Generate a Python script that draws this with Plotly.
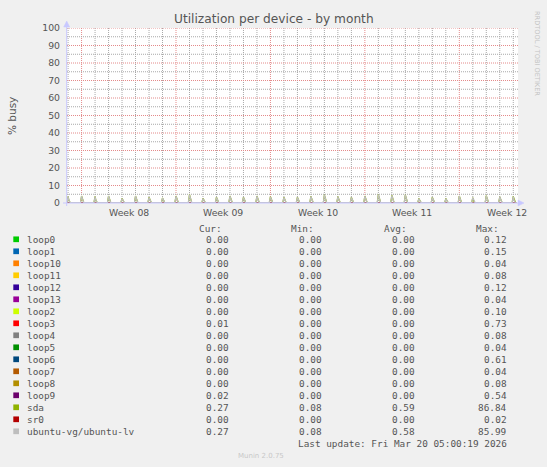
import plotly.graph_objects as go
from datetime import datetime, timedelta

# ---------------- data ----------------
devices = ["loop0", "loop1", "loop10", "loop11", "loop12", "loop13", "loop2", "loop3",
           "loop4", "loop5", "loop6", "loop7", "loop8", "loop9", "sda", "sr0",
           "ubuntu-vg/ubuntu-lv"]
colors = ["#00CC00", "#0066B3", "#FF8000", "#FFCC00", "#330099", "#990099", "#CCFF00",
          "#FF0000", "#808080", "#008F00", "#00487D", "#B35A00", "#B38F00", "#6B006B",
          "#8FB300", "#B30000", "#BEBEBE"]
cur_vals = [0.00, 0.00, 0.00, 0.00, 0.00, 0.00, 0.00, 0.01, 0.00, 0.00, 0.00, 0.00, 0.00, 0.02, 0.27, 0.00, 0.27]
min_vals = [0.00, 0.00, 0.00, 0.00, 0.00, 0.00, 0.00, 0.00, 0.00, 0.00, 0.00, 0.00, 0.00, 0.00, 0.08, 0.00, 0.08]
avg_vals = [0.00, 0.00, 0.00, 0.00, 0.00, 0.00, 0.00, 0.00, 0.00, 0.00, 0.00, 0.00, 0.00, 0.00, 0.59, 0.00, 0.58]
max_vals = [0.12, 0.15, 0.04, 0.08, 0.12, 0.04, 0.10, 0.73, 0.08, 0.04, 0.61, 0.04, 0.08, 0.54, 86.84, 0.02, 85.99]

first_day = "2026-02-15"
# daily spike (00:00) values, one per day Feb 15 .. Mar 20
sda_peak = [3.6, 4.0, 3.6, 4.0, 2.7, 4.0, 3.3, 2.9, 4.0, 4.8, 2.7, 3.3, 4.0, 3.3, 4.0, 3.6, 3.3,
            3.3, 3.8, 4.6, 3.6, 3.3, 4.0, 4.8, 4.4, 4.6, 2.5, 3.3, 2.5, 4.0, 3.1, 4.2, 3.5, 3.8]
sda_shoulder = [1.1, 1.3, 1.0, 1.2, 0.9, 1.2, 1.0, 0.9, 1.3, 1.4, 0.8, 1.0, 1.2, 1.0, 1.3, 1.1, 1.0,
                1.0, 1.2, 1.4, 1.1, 1.0, 1.2, 1.4, 1.3, 1.3, 0.8, 1.0, 0.8, 1.2, 0.9, 1.3, 1.1, 1.2]
sda_base = [0.25, 0.22, 0.28, 0.24, 0.20, 0.26, 0.23, 0.21, 0.27, 0.25, 0.22, 0.24, 0.26, 0.23, 0.25, 0.24, 0.22,
            0.23, 0.25, 0.27, 0.24, 0.22, 0.26, 0.28, 0.25, 0.26, 0.20, 0.23, 0.21, 0.25, 0.22, 0.26, 0.24, 0.27]
lv_peak = [3.5, 3.9, 3.5, 3.9, 2.6, 3.9, 3.2, 2.8, 3.9, 4.7, 2.6, 3.2, 3.9, 3.2, 3.9, 3.5, 3.2,
           3.2, 3.7, 4.5, 3.5, 3.2, 3.9, 4.7, 4.3, 4.5, 2.4, 3.2, 2.4, 3.9, 3.0, 4.1, 3.4, 3.7]
lv_shoulder = [1.1, 1.2, 1.0, 1.2, 0.9, 1.2, 1.0, 0.9, 1.2, 1.4, 0.8, 1.0, 1.2, 1.0, 1.2, 1.1, 1.0,
               1.0, 1.1, 1.4, 1.1, 1.0, 1.2, 1.4, 1.3, 1.3, 0.8, 1.0, 0.8, 1.2, 0.9, 1.2, 1.1, 1.1]
lv_base = [0.24, 0.22, 0.27, 0.24, 0.20, 0.25, 0.23, 0.21, 0.26, 0.25, 0.22, 0.24, 0.25, 0.23, 0.25, 0.24, 0.22,
           0.23, 0.25, 0.26, 0.24, 0.22, 0.25, 0.27, 0.25, 0.25, 0.20, 0.23, 0.21, 0.24, 0.22, 0.25, 0.24, 0.27]
zero_line = [0.0, 0.0]

week_labels = ["Week 08", "Week 09", "Week 10", "Week 11", "Week 12"]
week_starts = ["2026-02-16", "2026-02-23", "2026-03-02", "2026-03-09", "2026-03-16"]
y_ticks = [0, 10, 20, 30, 40, 50, 60, 70, 80, 90, 100]
x_start = "2026-02-14 22:05"
x_end = "2026-03-20 08:25"
last_update = "Fri Mar 20 05:00:19 2026"

# ---------------- geometry ----------------
W, H = 547, 467
ML, MR, MT, MB = 67, 29, 28, 264
PW = W - ML - MR
PH = H - MT - MB


def px(x):
    return (x - ML) / PW


def py(y):
    return (H - MB - y) / PH


def build_series(peak, shoulder, base):
    d0 = datetime.fromisoformat(first_day)
    end = datetime(2026, 3, 20, 5, 0)
    xs = [d0 - timedelta(hours=2)]
    ys = [base[0]]
    for i in range(len(peak)):
        day = d0 + timedelta(days=i)
        for h in range(0, 24, 2):
            t = day + timedelta(hours=h)
            if t > end:
                break
            xs.append(t)
            ys.append(peak[i] if h == 0 else shoulder[i] if h == 2 else base[i])
    return xs, ys


fig = go.Figure()
for i, name in enumerate(devices):
    if name == "sda":
        xs, ys = build_series(sda_peak, sda_shoulder, sda_base)
    elif name == "ubuntu-vg/ubuntu-lv":
        xs, ys = build_series(lv_peak, lv_shoulder, lv_base)
    else:
        xs, ys = [x_start, "2026-03-20 05:00"], zero_line
    fig.add_trace(go.Scatter(x=xs, y=ys, mode="lines", name=name,
                             line=dict(color=colors[i], width=1.2), showlegend=False))

GRID = "#a8a8a8"
MGRID = "#e48a8a"
AXIS = "#c8c8ff"
TXT = "#555555"
DASH = "1px,1px"

fig.update_layout(
    width=W, height=H,
    margin=dict(l=ML, r=MR, t=MT, b=MB, pad=0),
    paper_bgcolor="#F0F0F0", plot_bgcolor="#FFFFFF",
    showlegend=False,
    font=dict(family="DejaVu Sans", size=9.3, color=TXT),
    xaxis=dict(type="date", range=[x_start, x_end], showticklabels=False, ticks="",
               showgrid=False, zeroline=False, showline=False),
    yaxis=dict(range=[0, 100], tickmode="array", tickvals=y_ticks, showgrid=False,
               zeroline=False, showline=False, ticks="", ticklabelstandoff=6,
               tickfont=dict(size=9.3, color=TXT)),
)

shapes = []
# grid lines (days / weeks, every 5 / 10 %)
d0 = datetime.fromisoformat(first_day)
for d in range(len(sda_peak)):
    t = d0 + timedelta(days=d)
    major = t.strftime("%Y-%m-%d") in week_starts
    shapes.append(dict(type="line", xref="x", yref="paper", x0=t, x1=t, y0=0, y1=1, layer="below",
                       line=dict(color=MGRID if major else GRID, width=1, dash=DASH)))
for v in range(5, 101, 5):
    major = v in y_ticks
    shapes.append(dict(type="line", xref="paper", yref="y", x0=0, x1=1, y0=v, y1=v, layer="below",
                       line=dict(color=MGRID if major else GRID, width=1, dash=DASH)))
# axes with arrows
shapes.append(dict(type="line", xref="paper", yref="paper", x0=px(66.7), x1=px(66.7),
                   y0=py(206), y1=py(24), line=dict(color=AXIS, width=1)))
shapes.append(dict(type="line", xref="paper", yref="paper", x0=px(63), x1=px(519),
                   y0=py(203), y1=py(203), line=dict(color=AXIS, width=1)))
shapes.append(dict(type="path", xref="paper", yref="paper",
                   path=f"M {px(63.7)},{py(27)} L {px(66.7)},{py(21)} L {px(69.7)},{py(27)} Z",
                   fillcolor=AXIS, line=dict(color=AXIS, width=0.5)))
shapes.append(dict(type="path", xref="paper", yref="paper",
                   path=f"M {px(518)},{py(200)} L {px(524)},{py(203)} L {px(518)},{py(206)} Z",
                   fillcolor=AXIS, line=dict(color=AXIS, width=0.5)))

annotations = []
annotations.append(dict(text="Utilization per device - by month", xref="paper", yref="paper",
                        x=px(273.7), y=py(19), xanchor="center", yanchor="middle", showarrow=False,
                        font=dict(family="DejaVu Sans", size=12.2, color=TXT)))
annotations.append(dict(text="% busy", xref="paper", yref="paper", x=px(12), y=py(116),
                        xanchor="center", yanchor="middle", showarrow=False, textangle=-90,
                        font=dict(family="DejaVu Sans", size=10.5, color=TXT)))
annotations.append(dict(text="RRDTOOL / TOBI OETIKER", xref="paper", yref="paper", x=px(537),
                        y=py(53), xanchor="center", yanchor="middle", showarrow=False, textangle=90,
                        font=dict(family="DejaVu Sans", size=6.6, color="#c4c4c4")))
for i, lab in enumerate(week_labels):
    mid = datetime.fromisoformat(week_starts[i]) + timedelta(days=3, hours=12)
    annotations.append(dict(text=lab, xref="x", yref="paper", x=mid, y=py(212.5),
                            xanchor="center", yanchor="middle", showarrow=False,
                            font=dict(family="DejaVu Sans", size=9.3, color=TXT)))

MONO = "DejaVu Sans Mono"
FS = 9.4
for txt, xl in [("Cur:", 197), ("Min:", 289), ("Avg:", 382), ("Max:", 474)]:
    annotations.append(dict(text=txt, xref="paper", yref="paper", x=px(xl), y=py(228.3),
                            xanchor="left", yanchor="middle", showarrow=False,
                            font=dict(family=MONO, size=FS, color=TXT)))
for i, name in enumerate(devices):
    yc = 239.3 + 12.0 * i
    shapes.append(dict(type="rect", xref="paper", yref="paper", x0=px(13.3), x1=px(19.0),
                       y0=py(yc + 2.85), y1=py(yc - 2.85), fillcolor=colors[i], line=dict(width=0)))
    annotations.append(dict(text=name, xref="paper", yref="paper", x=px(25.3), y=py(yc),
                            xanchor="left", yanchor="middle", showarrow=False,
                            font=dict(family=MONO, size=FS, color=TXT)))
    for vals, xr in [(cur_vals, 231.3), (min_vals, 324.0), (avg_vals, 416.7), (max_vals, 509.0)]:
        annotations.append(dict(text=f"{vals[i]:.2f}", xref="paper", yref="paper", x=px(xr), y=py(yc),
                                xanchor="right", yanchor="middle", showarrow=False,
                                font=dict(family=MONO, size=FS, color=TXT)))
annotations.append(dict(text="Last update: " + last_update, xref="paper", yref="paper", x=px(509),
                        y=py(443.7), xanchor="right", yanchor="middle", showarrow=False,
                        font=dict(family=MONO, size=FS, color=TXT)))
annotations.append(dict(text="Munin 2.0.75", xref="paper", yref="paper", x=px(260.7), y=py(456),
                        xanchor="center", yanchor="middle", showarrow=False,
                        font=dict(family="DejaVu Sans", size=7, color="#c8c8c8")))

fig.update_layout(shapes=shapes, annotations=annotations)
fig.write_html("out.html", config={"displayModeBar": False},
               post_script="document.body.style.margin='0';document.body.style.overflow='hidden';")
